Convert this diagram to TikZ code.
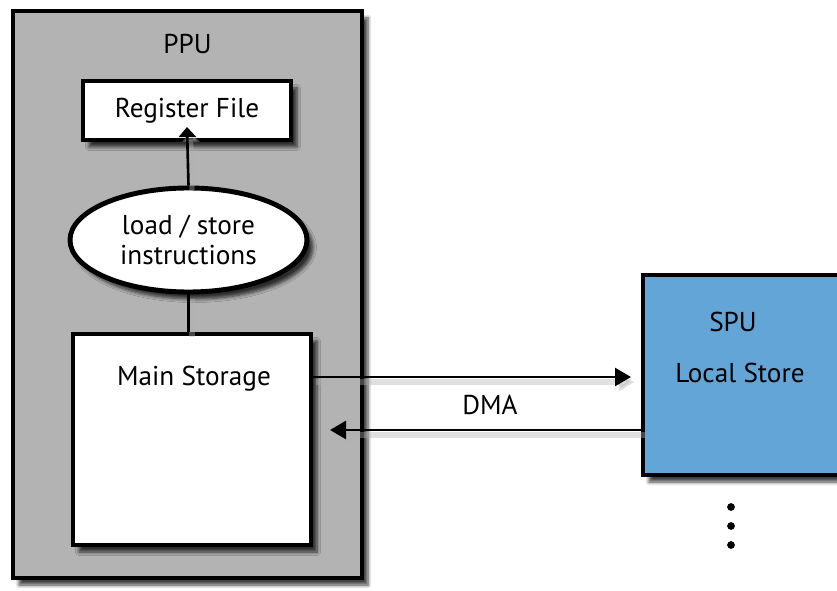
\documentclass[tikz,border=0pt]{standalone}
\usepackage{fontspec}
\setmainfont{PT Sans}
\usetikzlibrary{arrows.meta,shapes.geometric,shadows.blur}

\definecolor{ppugray}{HTML}{B3B3B3}
\definecolor{spublue}{HTML}{62A5D6}

\tikzset{
	shade/.style={blur shadow={shadow xshift=0.12cm, shadow yshift=-0.14cm, shadow blur steps=6, shadow opacity=75}},
	unit/.style={draw, line width=2.3pt, shade},
	store/.style={draw, fill=white, line width=1.8pt, shade},
	link/.style={line width=1.5pt, preaction={draw=black!30, line width=3pt, opacity=0.4, transform canvas={shift={(0.07,-0.1)}}}},
	bigtip/.style={-{Triangle[length=0.32cm, width=0.36cm]}}
}

\begin{document}
\begin{tikzpicture}[font=\fontsize{15.5}{19}\selectfont]
	\useasboundingbox (0, 0) rectangle (16.74, 11.8);

	% PPU side
	\node[unit, fill=ppugray, minimum width=6.98cm, minimum height=11.34cm] (ppu) at (3.75, 5.91) {};
	\node (ppulabel) at (3.75, 10.92) {PPU};

	\node[store, minimum width=4.16cm, minimum height=1.18cm] (regfile) at (3.74, 9.59) {Register File};
	\node[unit, line width=2.8pt, ellipse, fill=white, minimum width=4.74cm, minimum height=2.08cm, align=center, inner sep=0pt] (ldst) at (3.77, 7.0)
		{load / store\\[-2pt]instructions};
	\node[store, minimum width=4.76cm, minimum height=4.22cm] (mainstore) at (3.84, 3.01) {};
	\node (mslabel) at (3.88, 4.22) {Main Storage};

	\draw[link, -{Triangle[length=0.2cm, width=0.34cm]}] (ldst.north) -- (regfile.south |- 0, 9.26);
	\draw[link] (ldst.south) -- (ldst.south |- mainstore.north);

	% SPU side
	\node[draw, fill=spublue, line width=1.8pt, shade, minimum width=3.94cm, minimum height=4.0cm] (spu) at (14.83, 4.3) {};
	\node (spulabel) at (14.66, 5.36) {SPU};
	\node (lslabel) at (14.8, 4.34) {Local Store};

	\coordinate (outend) at (12.62, 4.26);
	\coordinate (inend) at (6.6, 3.2);
	\draw[link, bigtip] (mainstore.east |- outend) -- (outend);
	\draw[link, bigtip] (spu.west |- inend) -- (inend);
	\node (dma) at (9.8, 3.7) {DMA};

	% more SPUs below
	\foreach \y in {1.66, 1.28, 0.9}
		\fill (14.62, \y) circle (2.2pt);
\end{tikzpicture}
\end{document}
